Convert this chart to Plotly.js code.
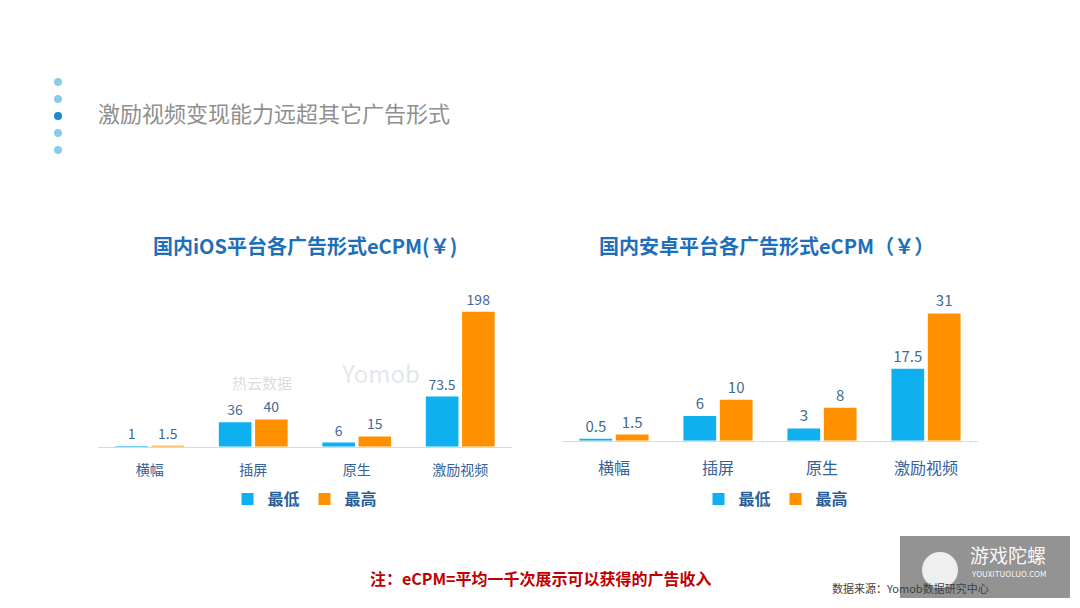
<!DOCTYPE html>
<html>
<head>
<meta charset="utf-8">
<script src="https://cdn.plot.ly/plotly-3.0.1.min.js"></script>
<style>html,body{margin:0;padding:0;background:#fff;}#chart{width:1080px;height:608px;}</style>
</head>
<body>
<div id="chart"></div>
<script>
const categories = ['横幅', '插屏', '原生', '激励视频'];
const seriesNames = ['最低', '最高'];
const iosLow = [1, 36, 6, 73.5];
const iosHigh = [1.5, 40, 15, 198];
const androidLow = [0.5, 6, 3, 17.5];
const androidHigh = [1.5, 10, 8, 31];

const FONT = '"Microsoft YaHei", "Noto Sans CJK SC", "Noto Sans", sans-serif';
const BLUE = '#0fb0f0';
const ORANGE = '#ff9100';
const VAL_COLOR = '#3f6a96';

function bar(x, y, name, color, xa, ya, legend, fs) {
  return {
    type: 'bar', x: x, y: y, name: name,
    marker: {color: color},
    xaxis: xa, yaxis: ya, legend: legend,
    texttemplate: '%{y}', textposition: 'outside', cliponaxis: false,
    textfont: {family: FONT, size: fs, color: VAL_COLOR},
    hoverinfo: 'x+y+name'
  };
}

const data = [
  bar(categories, iosLow, seriesNames[0], BLUE, 'x', 'y', 'legend', 14),
  bar(categories, iosHigh, seriesNames[1], ORANGE, 'x', 'y', 'legend', 14),
  bar(categories, androidLow, seriesNames[0], BLUE, 'x2', 'y2', 'legend2', 15),
  bar(categories, androidHigh, seriesNames[1], ORANGE, 'x2', 'y2', 'legend2', 15)
];

function xAxis(domain, anchor, size, standoff) {
  return {
    domain: domain, anchor: anchor,
    showline: true, linecolor: '#d9d9d9', linewidth: 1,
    ticks: '', showgrid: false, zeroline: false,
    ticklabelstandoff: standoff,
    tickfont: {family: FONT, size: size, color: '#34619a'}
  };
}
const yCommon = {visible: false, showgrid: false, zeroline: false, fixedrange: true};

const dotYs = [82, 99, 116, 133, 150];
const shapes = dotYs.map((yy, i) => ({
  type: 'circle', xref: 'paper', yref: 'paper',
  x0: 54 / 1080, x1: 62 / 1080,
  y0: 1 - (yy + 4) / 608, y1: 1 - (yy - 4) / 608,
  fillcolor: i === 2 ? '#1a8ad0' : '#8ccbec', line: {width: 0}
}));
shapes.push({
  type: 'rect', xref: 'paper', yref: 'paper',
  x0: 900 / 1080, x1: 1070 / 1080, y0: 1 - 598 / 608, y1: 1 - 536 / 608,
  fillcolor: 'rgba(120,120,120,0.8)', line: {width: 0}
});
shapes.push({
  type: 'circle', xref: 'paper', yref: 'paper',
  x0: 922 / 1080, x1: 958 / 1080, y0: 1 - 588 / 608, y1: 1 - 552 / 608,
  fillcolor: 'rgba(255,255,255,0.85)', line: {width: 0}
});

const annotations = [
  {text: '<b>国内iOS平台各广告形式eCPM(￥)</b>', x: 305 / 1080, y: 1 - 245 / 608,
   font: {family: FONT, size: 20, color: '#1e6fba'}},
  {text: '<b>国内安卓平台各广告形式eCPM（￥）</b>', x: 766 / 1080, y: 1 - 245 / 608,
   font: {family: FONT, size: 20, color: '#1e6fba'}},
  {text: '<b>注：eCPM=平均一千次展示可以获得的广告收入</b>', x: 541 / 1080, y: 1 - 578 / 608,
   font: {family: FONT, size: 16, color: '#c00000'}},
  {text: '数据来源：Yomob数据研究中心', x: 830 / 1080, y: 1 - 588 / 608, xanchor: 'left',
   font: {family: FONT, size: 11, color: '#404040'}},
  {text: '游戏陀螺', x: 1008 / 1080, y: 1 - 554 / 608,
   font: {family: FONT, size: 19, color: 'rgba(255,255,255,0.95)'}},
  {text: 'YOUXITUOLUO.COM', x: 1008 / 1080, y: 1 - 573 / 608,
   font: {family: FONT, size: 8, color: 'rgba(255,255,255,0.95)'}},
  {text: '热云数据', x: 262 / 1080, y: 1 - 382 / 608,
   font: {family: FONT, size: 15, color: 'rgba(150,150,150,0.35)'}},
  {text: 'Yomob', x: 380 / 1080, y: 1 - 372 / 608,
   font: {family: FONT, size: 24, color: 'rgba(150,170,190,0.3)'}}
].map(a => Object.assign({xref: 'paper', yref: 'paper', showarrow: false,
  xanchor: 'center', yanchor: 'middle'}, a));

const legendCommon = {
  orientation: 'h', xanchor: 'center', yanchor: 'middle',
  bgcolor: 'rgba(0,0,0,0)', itemwidth: 30, tracegroupgap: 0,
  font: {family: FONT, size: 16, color: '#2a5f9a', weight: 'bold'}
};

const layout = {
  width: 1080, height: 608,
  margin: {l: 0, r: 0, t: 0, b: 0},
  paper_bgcolor: '#ffffff', plot_bgcolor: 'rgba(0,0,0,0)',
  font: {family: FONT},
  title: {
    text: '激励视频变现能力远超其它广告形式',
    x: 98 / 1080, xanchor: 'left', xref: 'paper',
    y: 1 - 114 / 608, yanchor: 'middle', yref: 'paper',
    font: {family: FONT, size: 22, color: '#8f8f8f'}
  },
  barmode: 'group', bargap: 0.3, bargroupgap: 0.1,
  xaxis: xAxis([98 / 1080, 512 / 1080], 'y', 14, 10),
  yaxis: Object.assign({domain: [(608 - 446.7) / 608, (608 - 290) / 608], range: [0, 230], anchor: 'x'}, yCommon),
  xaxis2: xAxis([562 / 1080, 978 / 1080], 'y2', 16, 13),
  yaxis2: Object.assign({domain: [(608 - 440.7) / 608, (608 - 290) / 608], range: [0, 36.7], anchor: 'x2'}, yCommon),
  showlegend: true,
  legend: Object.assign({x: 305 / 1080, y: 1 - 499 / 608}, legendCommon),
  legend2: Object.assign({x: 776 / 1080, y: 1 - 499 / 608}, legendCommon),
  shapes: shapes,
  annotations: annotations
};

Plotly.newPlot('chart', data, layout, {displayModeBar: false, staticPlot: true});
</script>
</body>
</html>
